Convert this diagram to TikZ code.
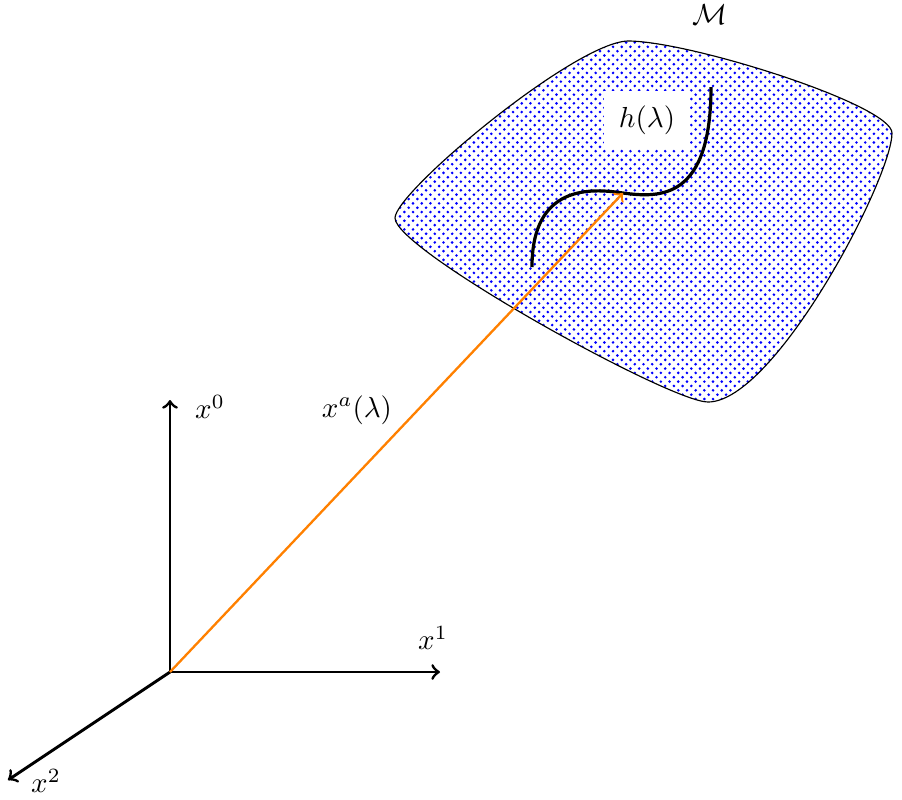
\documentclass[tikz,border=0pt]{standalone}
\usetikzlibrary{patterns}
\begin{document}
\begin{tikzpicture}[x=0.345pt,y=-0.345pt,
  axis/.style={line width=1pt,->},
  lab/.style={inner sep=1pt},
  blob/.style={draw=black, pattern=crosshatch dots, pattern color=blue}]
\useasboundingbox (0,0) rectangle (902,799);
% manifold
\draw[blob] (395,218) .. controls (395,192) and (575,42) .. (628,41)
  .. controls (690,41) and (892,105) .. (892,133)
  .. controls (892,178) and (775,402) .. (708,402)
  .. controls (670,402) and (395,250) .. cycle;
% curve h
\coordinate (hs) at (532,267);
\coordinate (P) at (623,193);
\coordinate (he) at (711,87);
\draw[line width=1.1pt] (hs) .. controls (532,185) and (590,188) .. (P)
  .. controls (660,198) and (711,200) .. (he);
\node[fill=white, inner sep=5pt] (h) at (647,120) {$h(\lambda)$};
\node (M) at (710,15) {$\mathcal{M}$};
% axes
\coordinate (O) at (170,672);
\coordinate (X0) at (170,400);
\coordinate (X1) at (440,672);
\coordinate (X2) at (8,780);
\draw[axis] (O) -- (X0);
\draw[axis] (O) -- (X1);
\draw[axis] (O) -- (X2);
\node[lab] (l0) at (210,407) {$x^0$};
\node[lab] (l1) at (433,638) {$x^1$};
\node[lab] (l2) at (46,781) {$x^2$};
\draw[thick, orange, ->] (O) -- (P);
\node[lab] (la) at (357,410) {$x^a(\lambda)$};
\end{tikzpicture}
\end{document}
